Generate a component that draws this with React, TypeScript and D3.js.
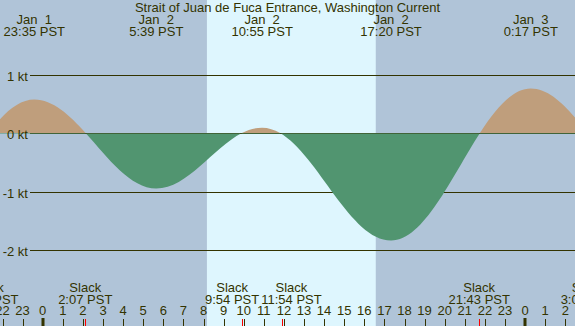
import React from 'react';
import * as d3 from 'd3';

// hours after Jan 2 00:00 PST
const extremeHours = [-6.92, -0.417, 5.65, 10.917, 17.333, 24.283, 30.47];
const extremeSpeeds = [-1.5, 0.58, -0.94, 0.1, -1.83, 0.77, -1.0];

const topHours = [-0.417, 5.65, 10.917, 17.333, 24.283];
const topDays = ['Jan  1', 'Jan  2', 'Jan  2', 'Jan  2', 'Jan  3'];
const topTimes = ['23:35 PST', '5:39 PST', '10:55 PST', '17:20 PST', '0:17 PST'];

const slackHours = [-2.73, 2.117, 9.9, 11.9, 21.717, 27.117];
const slackTimes = ['21:16 PST', '2:07 PST', '9:54 PST', '11:54 PST', '21:43 PST', '3:07 PST'];

const sunrise = 8.17;
const sunset = 16.57;

const hourTicks = d3.range(-2, 27);
const speedTicks = [1, 0, -1, -2];
const speedLabels = ['1 kt', '0 kt', '-1 kt', '-2 kt'];

const TITLE = 'Strait of Juan de Fuca Entrance, Washington Current';

const W = 575;
const H = 326;
const FONT = '"Liberation Sans", Arial, sans-serif';
const TXT = '#333300';

class CosineCurve {
  _context: any;
  _line: number = NaN;
  _point: number = 0;
  _x0: number = 0;
  _y0: number = 0;
  constructor(context: any) {
    this._context = context;
  }
  areaStart() {
    this._line = 0;
  }
  areaEnd() {
    this._line = NaN;
  }
  lineStart() {
    this._point = 0;
  }
  lineEnd() {
    if (this._line || (this._line !== 0 && this._point === 1)) this._context.closePath();
    this._line = 1 - this._line;
  }
  point(x: number, y: number) {
    x = +x;
    y = +y;
    if (this._point === 0) {
      this._point = 1;
      if (this._line) this._context.lineTo(x, y);
      else this._context.moveTo(x, y);
    } else {
      const k = 0.3634;
      const dx = x - this._x0;
      this._context.bezierCurveTo(this._x0 + k * dx, this._y0, x - k * dx, y, x, y);
    }
    this._x0 = x;
    this._y0 = y;
  }
}
const curveCosine = (context: any) => new CosineCurve(context);

function textWidth(s: string): number {
  try {
    const c = document.createElement('canvas').getContext('2d');
    if (c) {
      c.font = '13px "Liberation Sans", Arial, sans-serif';
      return c.measureText(s).width;
    }
  } catch (e) {}
  return s.length * 7;
}

// push overlapping centred labels apart
function spread(centers: number[], widths: number[], gap: number): number[] {
  const out = centers.slice();
  for (let iter = 0; iter < 20; iter++) {
    let moved = false;
    for (let i = 0; i < out.length - 1; i++) {
      const need = widths[i] / 2 + widths[i + 1] / 2 + gap;
      const have = out[i + 1] - out[i];
      if (have < need - 0.01) {
        const d = (need - have) / 2;
        out[i] -= d;
        out[i + 1] += d;
        moved = true;
      }
    }
    if (!moved) break;
  }
  return out;
}

export default function App() {
  const x = d3.scaleLinear().domain([0, 24]).range([42.7, 525.1]);
  const y = d3.scaleLinear().domain([-2, 1]).range([250.5, 75]);
  const y0 = Math.floor(y(0)) + 0.5;

  const pts = extremeHours.map((h, i) => [h, extremeSpeeds[i]] as [number, number]);
  const area = d3
    .area<[number, number]>()
    .x((d) => x(d[0]))
    .y0(y(0))
    .y1((d) => y(d[1]))
    .curve(curveCosine as any);
  const areaPath = area(pts) || '';

  const lineY = (v: number) => Math.floor(y(v)) + 0.5;

  const slackWidths = slackTimes.map((s) => Math.max(textWidth(s), textWidth('Slack')));
  const slackX = spread(slackHours.map((h) => x(h)), slackWidths, 2);

  return (
    <svg
      width={W}
      height={H}
      style={{ position: 'absolute', left: 0, top: 0, fontFamily: FONT }}
    >
      <defs>
        <clipPath id="floodClip">
          <rect x={0} y={0} width={W} height={Math.floor(y0)} />
        </clipPath>
        <clipPath id="ebbClip">
          <rect x={0} y={Math.floor(y0)} width={W} height={H} />
        </clipPath>
      </defs>
      <rect x={0} y={0} width={W} height={H} fill="#b0c4d8" />
      <rect x={x(sunrise)} y={0} width={x(sunset) - x(sunrise)} height={H} fill="#def6fe" />

      {speedTicks.map((v) => (
        <line key={v} x1={30} x2={W} y1={lineY(v)} y2={lineY(v)} stroke={TXT} strokeWidth={1} />
      ))}

      <path d={areaPath} fill="#bf9e7c" clipPath="url(#floodClip)" />
      <path d={areaPath} fill="#519570" clipPath="url(#ebbClip)" />

      {speedTicks.map((v, i) => (
        <text key={v} x={28} y={lineY(v) + 5} textAnchor="end" fontSize={13} fill={TXT}>
          {speedLabels[i]}
        </text>
      ))}

      <text x={W / 2} y={12} textAnchor="middle" fontSize={13} fill={TXT}>
        {TITLE}
      </text>
      {topHours.map((h, i) => (
        <g key={i}>
          <text x={x(h)} y={24} textAnchor="middle" fontSize={13} fill={TXT} style={{ whiteSpace: 'pre' }}>
            {topDays[i]}
          </text>
          <text x={x(h)} y={36} textAnchor="middle" fontSize={13} fill={TXT}>
            {topTimes[i]}
          </text>
        </g>
      ))}

      {slackHours.map((h, i) => (
        <g key={i}>
          <text x={slackX[i]} y={292} textAnchor="middle" fontSize={13} fill={TXT}>
            Slack
          </text>
          <text x={slackX[i]} y={304} textAnchor="middle" fontSize={13} fill={TXT}>
            {slackTimes[i]}
          </text>
        </g>
      ))}

      {hourTicks.map((h) => {
        const hx = Math.round(x(h));
        const label = ((h % 24) + 24) % 24;
        const midnight = label === 0;
        return (
          <g key={h}>
            <text x={x(h)} y={315} textAnchor="middle" fontSize={13} fill={TXT}>
              {label}
            </text>
            {midnight ? (
              <rect x={hx - 1.5} y={318} width={3} height={8} fill={TXT} />
            ) : (
              <line x1={hx + 0.5} x2={hx + 0.5} y1={319} y2={326} stroke={TXT} strokeWidth={1} />
            )}
          </g>
        );
      })}
      {slackHours.map((h, i) => {
        const sx = Math.round(x(h));
        return <line key={i} x1={sx + 0.5} x2={sx + 0.5} y1={319} y2={326} stroke="#ff0000" strokeWidth={1} />;
      })}
    </svg>
  );
}
